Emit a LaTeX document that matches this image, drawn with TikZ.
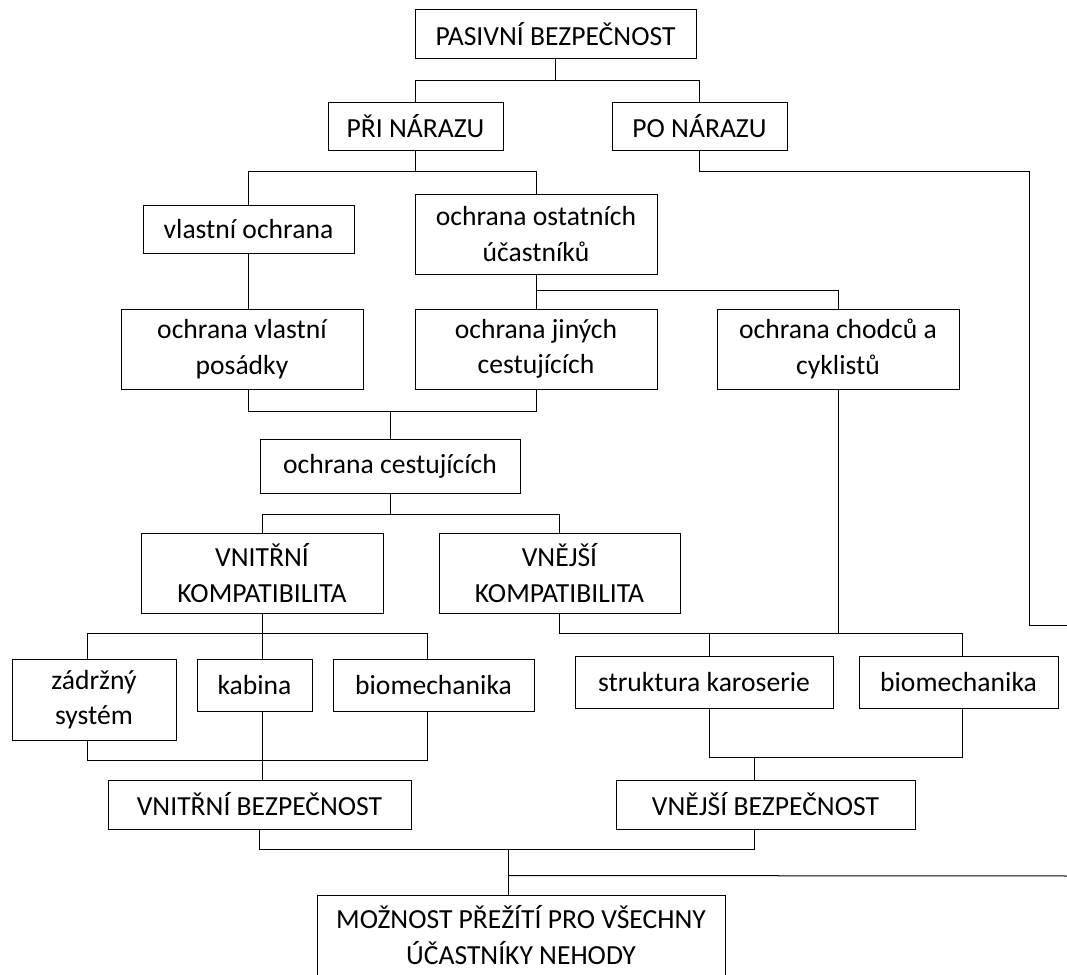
\documentclass[tikz,border=0pt]{standalone}
\usepackage{fontspec}
\setmainfont{Carlito}
\usepackage{tikz}

\begin{document}
\begin{tikzpicture}[
    x=1pt, y=-1pt,
    box/.style={draw, rectangle, line width=1pt, align=center, inner sep=0pt, font=\fontsize{27.6}{35.5}\selectfont},
    link/.style={line width=1pt}
]
\useasboundingbox (0,0) rectangle (1067,974);
\clip (0,0) rectangle (1067,974);

% Nodes
\node[box, minimum width=281, minimum height=49] (pasivni) at (555.5,34.5) {PASIVNÍ BEZPEČNOST};
\node[box, minimum width=175, minimum height=48] (pri) at (415.5,126) {PŘI NÁRAZU};
\node[box, minimum width=175, minimum height=48] (po) at (699.5,126) {PO NÁRAZU};
\node[box, minimum width=211, minimum height=48] (vlastni) at (248.5,229) {vlastní ochrana};
\node[box, minimum width=242, minimum height=80] (ostatni) at (536,234) {ochrana ostatních\\účastníků};
\node[box, minimum width=242, minimum height=80] (posadka) at (242,349) {ochrana vlastní\\posádky};
\node[box, minimum width=242, minimum height=80] (jinych) at (536,349) {ochrana jiných\\cestujících};
\node[box, minimum width=242, minimum height=80] (chodcu) at (838,349) {ochrana chodců a\\cyklistů};
\node[box, minimum width=260, minimum height=54] (cestujicich) at (390,466) {ochrana cestujících};
\node[box, minimum width=242, minimum height=80] (vnitrkomp) at (262,573) {VNITŘNÍ\\KOMPATIBILITA};
\node[box, minimum width=241, minimum height=80] (vnejkomp) at (559.5,573) {VNĚJŠÍ\\KOMPATIBILITA};
\node[box, minimum width=164, minimum height=81] (zadrzny) at (94,699.5) {zádržný\\systém};
\node[box, minimum width=115, minimum height=52] (kabina) at (254.5,685) {kabina};
\node[box, minimum width=201, minimum height=52] (biomechin) at (433.5,685) {biomechanika};
\node[box, minimum width=258, minimum height=52] (struktura) at (704,682) {struktura karoserie};
\node[box, minimum width=199, minimum height=52] (biomechout) at (958.5,682) {biomechanika};
\node[box, minimum width=303, minimum height=49] (vnitrbezp) at (259.5,804.5) {VNITŘNÍ BEZPEČNOST};
\node[box, minimum width=299, minimum height=49] (vnejbezp) at (765.5,804.5) {VNĚJŠÍ BEZPEČNOST};
\node[box, minimum width=408, minimum height=80] (moznost) at (521,935) {MOŽNOST PŘEŽÍTÍ PRO VŠECHNY\\ÚČASTNÍKY NEHODY};

\coordinate (poend) at (1029,625);
\coordinate (poout) at (1080,625);
\coordinate (moznostout) at (1080,876);

% Connectors
\draw[link] (pasivni.south) -- ++(0,21) coordinate (j1);
\draw[link] (pri.north) |- (j1) -| (po.north);

\draw[link] (pri.south) -- ++(0,21) coordinate (j2);
\draw[link] (vlastni.north) |- (j2) -| (ostatni.north);

\draw[link] (po.south) -- ++(0,21) -| (poend) -- (poout);

\draw[link] (vlastni.south) -- (vlastni.south |- posadka.north);
\draw[link] (ostatni.south) -- (jinych.north);
\draw[link] (ostatni.south) ++(0,16) -| (chodcu.north);

\draw[link] (vlastni.south |- posadka.south) -- ++(0,22) -| (jinych.south);
\draw[link] (cestujicich.north) -- ++(0,-28);

\draw[link] (cestujicich.south) -- ++(0,21) coordinate (j5);
\draw[link] (vnitrkomp.north) |- (j5) -| (vnejkomp.north);

\draw[link] (vnitrkomp.south) -- ++(0,20) coordinate (j6);
\draw[link] ([xshift=-7pt]zadrzny.north) |- (j6) -| ([xshift=-6pt]biomechin.north);
\draw[link] (j6) -- (j6 |- kabina.north);
\draw[link] ([xshift=-7pt]zadrzny.south) -- ++(0,20) -| ([xshift=-6pt]biomechin.south);
\draw[link] (j6 |- kabina.south) -- (j6 |- vnitrbezp.north);

\draw[link] (vnejkomp.south) -- ++(0,20) coordinate (j7) -| ([xshift=4pt]biomechout.north);
\draw[link] (chodcu.south) -- (chodcu.south |- j7);
\draw[link] ([xshift=5pt]struktura.north) -- ++(0,-23);
\draw[link] ([xshift=5pt]struktura.south) -- ++(0,49) -| ([xshift=4pt]biomechout.south);
\draw[link] ([xshift=-11pt]vnejbezp.north) -- ++(0,-23);

\draw[link] (vnitrbezp.south) -- ++(0,20) -| ([xshift=-11pt]vnejbezp.south);
\draw[link] ([xshift=-13pt]moznost.north) -- ++(0,-46);
\draw[link] ([xshift=-13pt]moznost.north) ++(0,-19) -- (moznostout);

\end{tikzpicture}
\end{document}
